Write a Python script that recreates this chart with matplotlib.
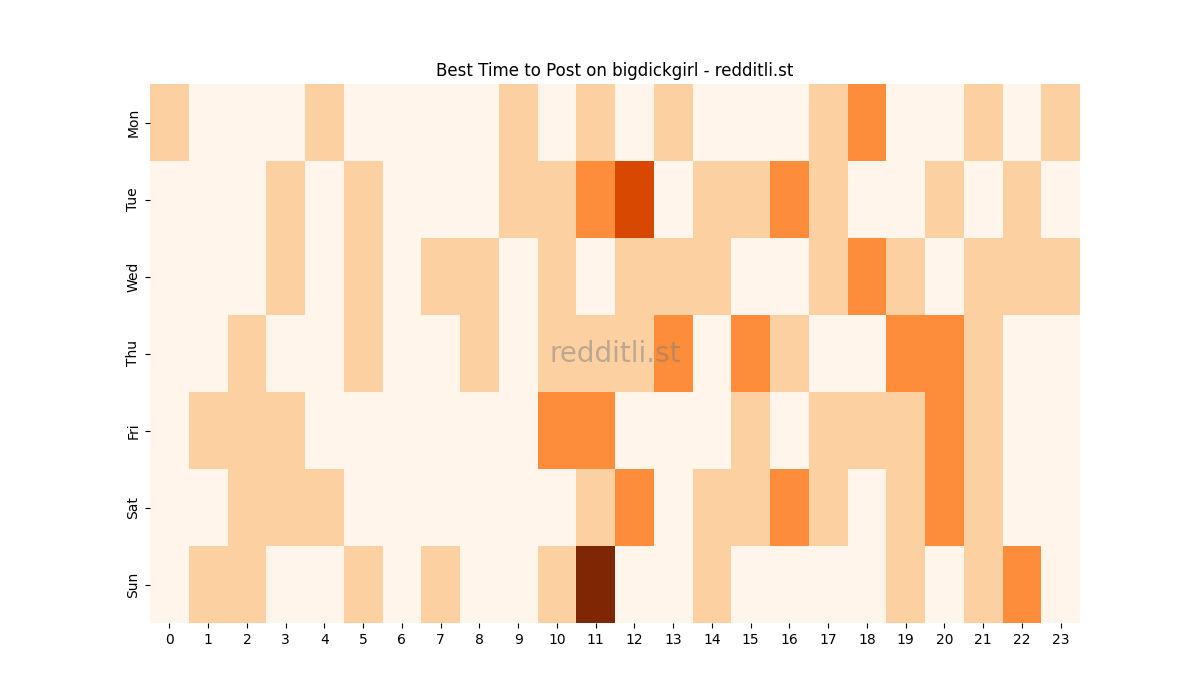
import matplotlib
matplotlib.use("Agg")
import matplotlib.pyplot as plt
import seaborn as sns
import numpy as np

days = ["Mon", "Tue", "Wed", "Thu", "Fri", "Sat", "Sun"]
hours = list(range(24))

mon = [1,0,0,0,1,0,0,0,0,1,0,1,0,1,0,0,0,1,2,0,0,1,0,1]
tue = [0,0,0,1,0,1,0,0,0,1,1,2,3,0,1,1,2,1,0,0,1,0,1,0]
wed = [0,0,0,1,0,1,0,1,1,0,1,0,1,1,1,0,0,1,2,1,0,1,1,1]
thu = [0,0,1,0,0,1,0,0,1,0,1,1,1,2,0,2,1,0,0,2,2,1,0,0]
fri = [0,1,1,1,0,0,0,0,0,0,2,2,0,0,0,1,0,1,1,1,2,1,0,0]
sat = [0,0,1,1,1,0,0,0,0,0,0,1,2,0,1,1,2,1,0,1,2,1,0,0]
sun = [0,1,1,0,0,1,0,1,0,0,1,4,0,0,1,0,0,0,0,1,0,1,2,0]

data = np.array([mon, tue, wed, thu, fri, sat, sun])

fig, ax = plt.subplots(figsize=(12, 7), dpi=100)
sns.heatmap(data, cmap="Oranges", vmin=0, vmax=4, cbar=False,
            xticklabels=hours, yticklabels=days, ax=ax)
ax.set_title("Best Time to Post on bigdickgirl - redditli.st")
ax.text(0.5, 0.5, "redditli.st", transform=ax.transAxes, fontsize=20,
        color="gray", alpha=0.5, ha="center", va="center")
fig.savefig("out.png", dpi=100)
